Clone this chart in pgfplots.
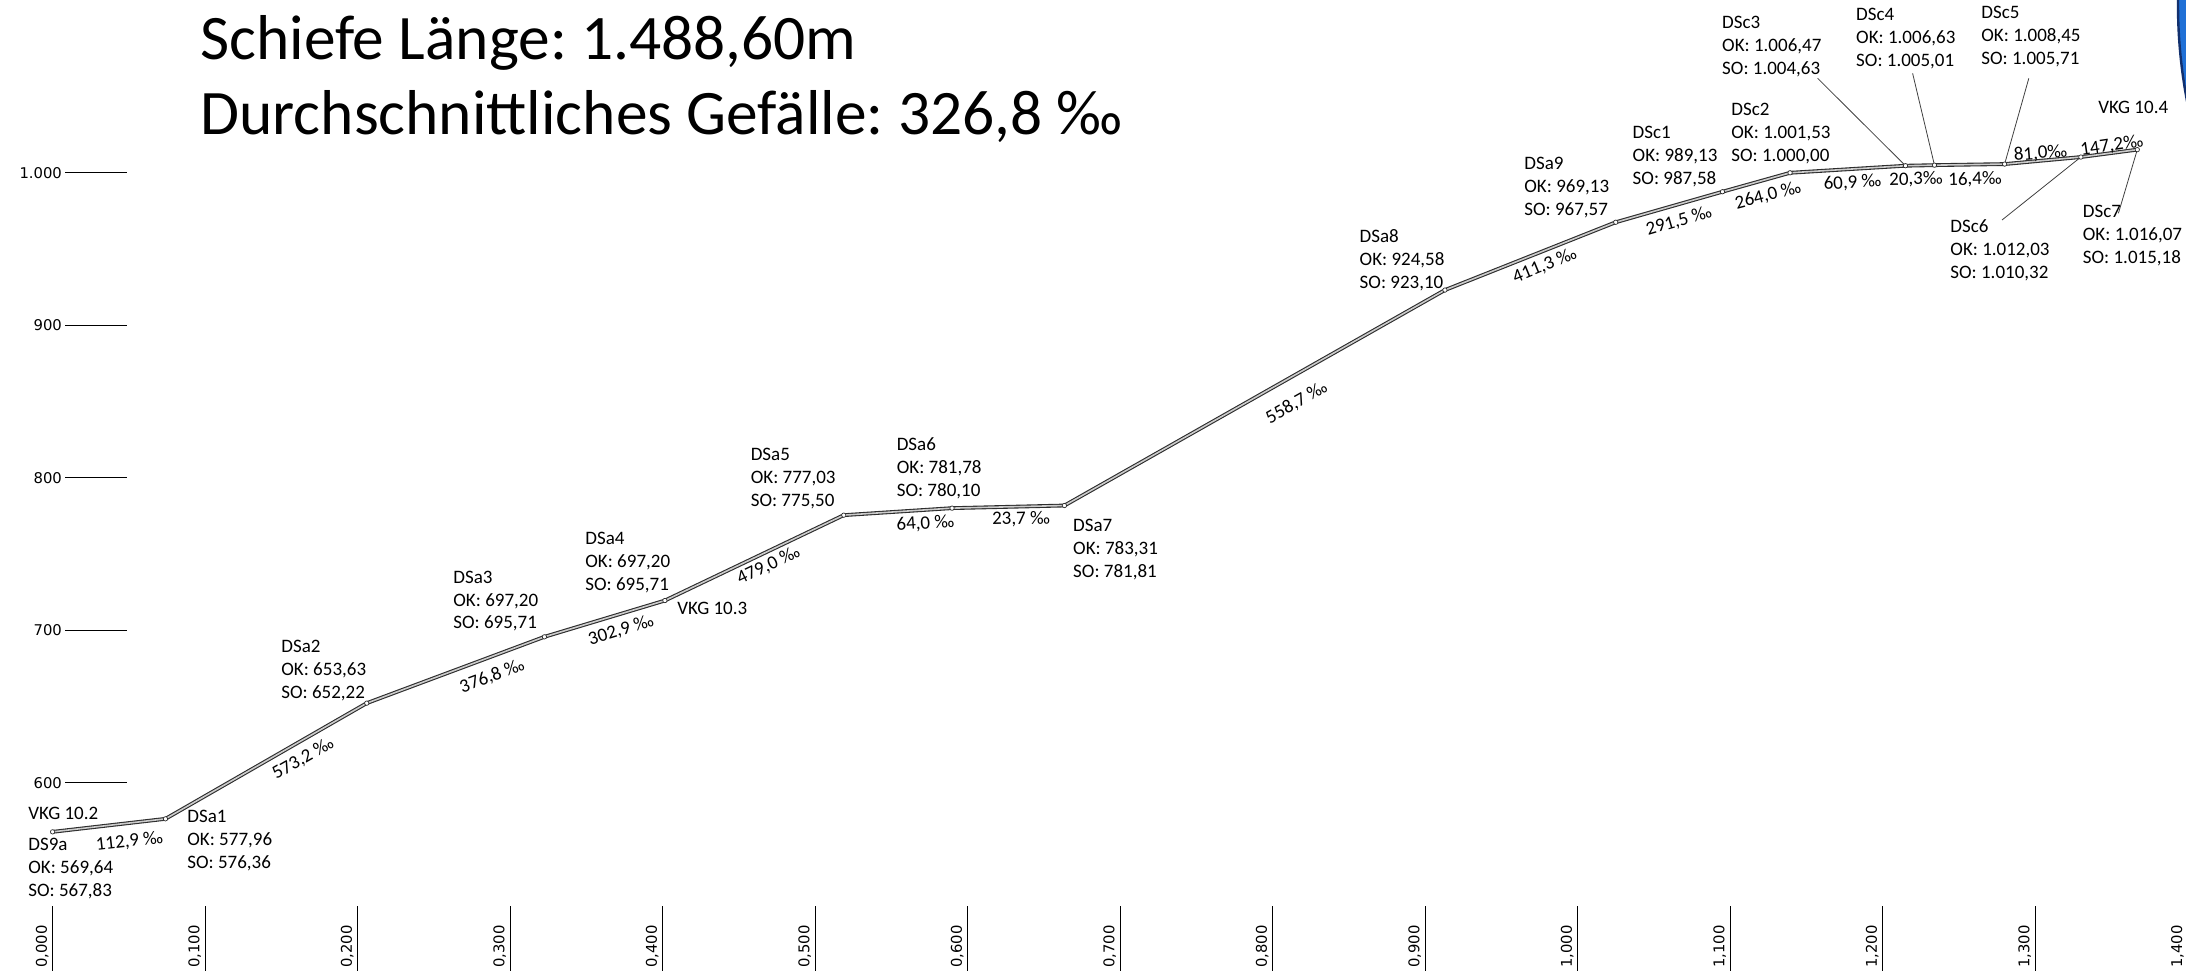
\documentclass[border=0pt]{standalone}
\usepackage{pgfplots}
\usepackage{pgfplotstable}
\pgfplotsset{compat=1.18}
\usepackage{fontspec}
\setmainfont{Carlito}
\newfontfamily\tickfont{DejaVu Sans}
\frenchspacing

% 1 px of the reference = 0.5pt, page 2186 x 973 px = 1093pt x 486.5pt
% true scale profile: 0.1 km = 100 m = 152.5 px
\definecolor{pipe}{RGB}{45,45,45}
\definecolor{logoblue}{RGB}{32,112,214}
\definecolor{logoedge}{RGB}{18,48,110}

\newcommand{\yrule}{\hspace{1.7pt}\rule[2.5pt]{31pt}{0.5pt}}
\newcommand{\blk}[3]{\begin{tabular}[t]{@{}l@{}}#1\\#2\\#3\end{tabular}}

% station (km), top of manhole (OK), invert (SO)
% DSa4 is printed with the values of DSa3, drawn where the profile puts it
\pgfplotstableread{
km      OK       SO
0.0000  569.64   567.83
0.0740  577.96   576.36
0.2060  653.63   652.22
0.3225  697.20   695.71
0.4015  721.00   719.50
0.5188  777.03   775.50
0.5898  781.78   780.10
0.6635  783.31   781.81
0.9130  924.58   923.10
1.0250  969.13   967.57
1.0950  989.13   987.58
1.1393  1001.53  1000.00
1.2150  1006.47  1004.63
1.2340  1006.63  1005.01
1.2800  1008.45  1005.71
1.3300  1012.03  1010.32
1.3670  1016.07  1015.18
}\profil

\begin{document}
\begin{tikzpicture}[
    lbl/.style={font=\fontsize{9.5}{11.5}\selectfont, inner sep=0pt, anchor=base west},
    slp/.style={font=\fontsize{9.5}{11.5}\selectfont, inner sep=0pt, anchor=center},
    lead/.style={black!75, line width=0.4pt},
]
\begin{axis}[
    at={(26.3pt,1pt)}, anchor=south west,
    x=762.5pt, y=0.7625pt,
    xmin=0, xmax=1.4, ymin=476.59, ymax=1113.31,
    axis x line*=bottom, axis y line*=left,
    axis line style={draw=none},
    clip=false,
    tick align=inside,
    xtick={0,0.1,0.2,0.3,0.4,0.5,0.6,0.7,0.8,0.9,1.0,1.1,1.2,1.3,1.4},
    xticklabels={{0,000},{0,100},{0,200},{0,300},{0,400},{0,500},{0,600},{0,700},
                 {0,800},{0,900},{1,000},{1,100},{1,200},{1,300},{1,400}},
    ytick={600,700,800,900,1000},
    yticklabels={600\yrule,700\yrule,800\yrule,900\yrule,1.000\yrule},
    major tick length=32.6pt,
    xtick style={black, line width=0.5pt},
    ytick style={draw=none},
    xticklabel style={font=\tickfont\fontsize{7.4}{8}\selectfont, xshift=-1.75pt, yshift=1.5pt,
                      rotate=90, anchor=south west, inner sep=0pt},
    yticklabel style={font=\tickfont\fontsize{7.4}{8}\selectfont, anchor=east, inner sep=0pt,
                      xshift=37.55pt},
]
\addplot[draw=pipe, line width=0.55pt, double=black!20, double distance=0.8pt,
         line join=round, no marks] table[x=km, y=SO]{\profil};
\addplot[only marks, mark=*, mark size=1.1pt,
         mark options={draw=pipe, fill=white, line width=0.35pt}] table[x=km, y=SO]{\profil};

% manhole labels
\node[lbl] at (-0.01613,575.61) {VKG 10.2};
\node[lbl] at (-0.01613,555.28) {\blk{DS9a}{OK: 569,64}{SO: 567,83}};
\node[lbl] at (0.08813,573.64) {\blk{DSa1}{OK: 577,96}{SO: 576,36}};
\node[lbl] at (0.14977,685.31) {\blk{DSa2}{OK: 653,63}{SO: 652,22}};
\node[lbl] at (0.26256,731.01) {\blk{DSa3}{OK: 697,20}{SO: 695,71}};
\node[lbl] at (0.34911,755.93) {\blk{DSa4}{OK: 697,20}{SO: 695,71}};
\node[lbl] at (0.40944,710.49) {VKG 10.3};
\node[lbl] at (0.45757,811.47) {\blk{DSa5}{OK: 777,03}{SO: 775,50}};
\node[lbl] at (0.55331,817.57) {\blk{DSa6}{OK: 781,78}{SO: 780,10}};
\node[lbl] at (0.66898,764.65) {\blk{DSa7}{OK: 783,31}{SO: 781,81}};
\node[lbl] at (0.85685,954.16) {\blk{DSa8}{OK: 924,58}{SO: 923,10}};
\node[lbl] at (0.96485,1002.29) {\blk{DSa9}{OK: 969,13}{SO: 967,57}};
\node[lbl] at (1.03587,1022.62) {\blk{DSc1}{OK: 989,13}{SO: 987,58}};
\node[lbl] at (1.10059,1037.24) {\blk{DSc2}{OK: 1.001,53}{SO: 1.000,00}};
\node[lbl] at (1.09456,1094.49) {\blk{DSc3}{OK: 1.006,47}{SO: 1.004,63}};
\node[lbl] at (1.18243,1099.54) {\blk{DSc4}{OK: 1.006,63}{SO: 1.005,01}};
\node[lbl] at (1.26452,1101.05) {\blk{DSc5}{OK: 1.008,45}{SO: 1.005,71}};
\node[lbl] at (1.34118,1039.01) {VKG 10.4};
\node[lbl] at (1.24420,960.72) {\blk{DSc6}{OK: 1.012,03}{SO: 1.010,32}};
\node[lbl] at (1.33108,970.56) {\blk{DSc7}{OK: 1.016,07}{SO: 1.015,18}};

% leader lines
\draw[lead] (1.15738,1061.97) -- (1.2150,1004.63);
\draw[lead] (1.21967,1065.24) -- (1.2340,1005.01);
\draw[lead] (1.29587,1061.97) -- (1.2800,1005.71);
\draw[lead] (1.27830,969.05) -- (1.3300,1010.32);
\draw[lead] (1.35462,973.44) -- (1.3670,1015.18);

% gradients
\node[slp, rotate=6.4]  at (0.05043,561.49) {112,9 ‰};
\node[slp, rotate=29.8] at (0.16423,615.90) {573,2 ‰};
\node[slp, rotate=20.6] at (0.28821,669.84) {376,8 ‰};
\node[slp, rotate=16.9] at (0.37272,699.85) {302,9 ‰};
\node[slp, rotate=25.6] at (0.46946,742.47) {479,0 ‰};
\node[slp, rotate=3.7]  at (0.57233,770.03) {64,0 ‰};
\node[slp, rotate=1.4]  at (0.63502,772.98) {23,7 ‰};
\node[slp, rotate=29.2] at (0.81577,849.01) {558,7 ‰};
\node[slp, rotate=22.4] at (0.97851,939.20) {411,3 ‰};
\node[slp, rotate=16.3] at (1.06649,968.38) {291,5 ‰};
\node[slp, rotate=14.8] at (1.12485,985.10) {264,0 ‰};
\node[slp, rotate=3.5]  at (1.18026,993.51) {60,9 ‰};
\node[slp, rotate=1.2]  at (1.22190,995.61) {20,3‰};
\node[slp, rotate=0.9]  at (1.26059,995.61) {16,4‰};
\node[slp, rotate=4.6]  at (1.30354,1012.65) {81,0‰};
\node[slp, rotate=8.4]  at (1.35030,1017.57) {147,2‰};
\end{axis}

\node[anchor=base west, inner sep=0pt, font=\fontsize{31.7}{38}\selectfont]
    at (100pt,456.5pt) {Schiefe Länge: 1.488,60m};
\node[anchor=base west, inner sep=0pt, font=\fontsize{31.7}{38}\selectfont]
    at (100pt,419.25pt) {Durchschnittliches Gefälle: 326,8 ‰};

% edge of the logo cut off at the top right
\begin{scope}
\clip (0,0) rectangle (1093pt,486.5pt);
\filldraw[fill=logoblue, draw=logoedge, line width=1.2pt] (1344pt,484pt) circle (255pt);
\end{scope}

\pgfresetboundingbox
\useasboundingbox (0,0) rectangle (1093pt,486.5pt);
\end{tikzpicture}
\end{document}
